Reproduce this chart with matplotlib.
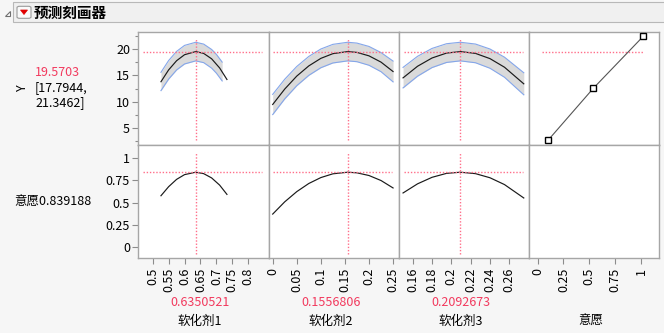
import matplotlib
matplotlib.use("Agg")
import matplotlib.pyplot as plt
from matplotlib.patches import FancyBboxPatch, Polygon, Rectangle

plt.rcParams["font.family"] = ["Noto Sans CJK SC", "DejaVu Sans"]
plt.rcParams["font.size"] = 9

W, H = 664, 333

# ---- data read from the profiler ----
factor_names = ["软化剂1", "软化剂2", "软化剂3", "意愿"]
factor_values = ["0.6350521", "0.1556806", "0.2092673", ""]
current_x = [0.6350521, 0.1556806, 0.2092673]
pred_y = 19.5703
pred_ci = (17.7944, 21.3462)
desir = 0.839188

# column 1 (软化剂1)
x1 = [0.526, 0.55, 0.575, 0.6, 0.635, 0.66, 0.685, 0.71, 0.733]
y1 = [13.80, 16.06, 17.82, 18.97, 19.57, 19.22, 18.18, 16.44, 14.23]
d1 = [0.576, 0.677, 0.759, 0.812, 0.839, 0.823, 0.775, 0.695, 0.591]
bx1 = [0.526, 0.55, 0.575, 0.6, 0.635, 0.66, 0.685, 0.70, 0.718]
hi1 = [15.60, 17.85, 19.60, 20.75, 21.35, 21.00, 19.97, 19.02, 17.56]
lo1 = [12.10, 14.30, 16.05, 17.20, 17.79, 17.45, 16.40, 15.43, 13.95]

# column 2 (软化剂2)
x2 = [0.0, 0.025, 0.05, 0.075, 0.1, 0.125, 0.1557, 0.175, 0.2, 0.225, 0.25]
y2 = [9.45, 12.40, 14.88, 16.83, 18.27, 19.17, 19.57, 19.41, 18.75, 17.55, 15.75]
d2 = [0.371, 0.508, 0.622, 0.713, 0.779, 0.821, 0.839, 0.832, 0.802, 0.746, 0.663]
hi2 = [11.38, 14.28, 16.72, 18.64, 20.06, 20.95, 21.35, 21.19, 20.55, 19.38, 17.75]
lo2 = [7.52, 10.52, 13.04, 15.02, 16.48, 17.39, 17.79, 17.63, 16.95, 15.72, 13.77]

# column 3 (软化剂3)
x3 = [0.15, 0.165, 0.18, 0.195, 0.2093, 0.225, 0.24, 0.255, 0.275]
y3 = [14.54, 16.76, 18.34, 19.28, 19.57, 19.22, 18.22, 16.58, 13.40]
d3 = [0.607, 0.709, 0.782, 0.826, 0.839, 0.823, 0.777, 0.701, 0.551]
hi3 = [16.54, 18.66, 20.17, 21.07, 21.35, 21.01, 20.06, 18.50, 15.52]
lo3 = [12.62, 14.86, 16.51, 17.49, 17.79, 17.43, 16.38, 14.66, 11.30]

# desirability function (column 4)
dfun_d = [0.104, 0.538, 1.02]
dfun_y = [2.66, 12.54, 22.49]

# axis ranges and ticks
xlims = [(0.453, 0.864), (-0.0083, 0.2617), (0.1455, 0.2801), (-0.085, 1.167)]
xticks = [
    [0.5, 0.55, 0.6, 0.65, 0.7, 0.75, 0.8],
    [0.0, 0.05, 0.1, 0.15, 0.2, 0.25],
    [0.16, 0.18, 0.2, 0.22, 0.24, 0.26],
    [0.0, 0.25, 0.5, 0.75, 1.0],
]
xticklabels = [
    ["0.5", "0.55", "0.6", "0.65", "0.7", "0.75", "0.8"],
    ["0", "0.05", "0.1", "0.15", "0.2", "0.25"],
    ["0.16", "0.18", "0.2", "0.22", "0.24", "0.26"],
    ["0", "0.25", "0.5", "0.75", "1"],
]
ylims = [(1.70, 23.37), (-0.123, 1.143)]
yticks = [[5, 10, 15, 20], [0, 0.25, 0.5, 0.75, 1]]
yticklabels = [["5", "10", "15", "20"], ["0", "0.25", "0.5", "0.75", "1"]]
yminor = [2.5, 7.5, 12.5, 17.5, 22.5]

# extents of the red crosshair lines
hspan = [(0.471, 0.843), (0.001, 0.248), (0.151, 0.274), (0.04, 1.027)]
vspan_y = (2.66, 22.16)
vspan_d = (-0.075, 1.068)

RED = "#f23a5e"
REDLINE = "#ff6f8a"
EDGE = "#a6a6a6"
BAND = "#dadada"
BLUE = "#84a6ea"
DOT = (0, (1, 1.3))

col_px = [137.7, 268.7, 398.7, 528.7, 658.5]
row_px = [31.7, 145.0, 258.3]


def fx(px):
    return px / W


def fy(py):
    return 1 - py / H


fig = plt.figure(figsize=(W / 100, H / 100), dpi=100, facecolor="#f6f6f6")

curves = [(x1, y1, d1, bx1, hi1, lo1), (x2, y2, d2, x2, hi2, lo2), (x3, y3, d3, x3, hi3, lo3)]

for r in range(2):
    for c in range(4):
        left, right = col_px[c], col_px[c + 1]
        top, bottom = row_px[r], row_px[r + 1]
        ax = fig.add_axes([fx(left), fy(bottom), (right - left) / W, (bottom - top) / H])
        ax.set_facecolor("white")
        ax.set_xlim(*xlims[c])
        ax.set_ylim(*ylims[r])
        for sp in ax.spines.values():
            sp.set_color(EDGE)
            sp.set_linewidth(1.0)
        ax.set_xticks(xticks[c])
        ax.set_xticklabels(xticklabels[c], rotation=90)
        ax.set_yticks(yticks[r])
        ax.set_yticklabels(yticklabels[r])
        if r == 0:
            ax.set_yticks(yminor, minor=True)
        ax.tick_params(axis="both", which="major", length=4, width=0.8, color="#8c8c8c", labelsize=9)
        ax.tick_params(axis="y", which="minor", length=2.2, width=0.8, color="#8c8c8c")
        ax.tick_params(axis="y", which="both", left=(c == 0), labelleft=(c == 0), pad=1.5)
        ax.tick_params(axis="x", which="both", bottom=(r == 1), labelbottom=(r == 1), pad=3)

        hx0, hx1 = hspan[c]
        if c < 3:
            xs, ys, ds, bx, hi, lo = curves[c]
            if r == 0:
                ax.fill_between(bx, lo, hi, color=BAND, lw=0, zorder=1)
                ax.plot(bx, hi, color=BLUE, lw=0.8, zorder=2)
                ax.plot(bx, lo, color=BLUE, lw=0.8, zorder=2)
                ax.plot(xs, ys, color="#1a1a1a", lw=0.85, zorder=3)
                ax.plot([hx0, hx1], [pred_y, pred_y], color=REDLINE, lw=1.0, ls=DOT, zorder=4)
                ax.plot([current_x[c]] * 2, vspan_y, color=REDLINE, lw=1.0, ls=DOT, zorder=4)
            else:
                ax.plot(xs, ds, color="#1a1a1a", lw=0.85, zorder=3)
                ax.plot([hx0, hx1], [desir, desir], color=REDLINE, lw=1.0, ls=DOT, zorder=4)
                ax.plot([current_x[c]] * 2, vspan_d, color=REDLINE, lw=1.0, ls=DOT, zorder=4)
        elif r == 0:
            ax.plot([hx0, hx1], [pred_y, pred_y], color=REDLINE, lw=1.0, ls=DOT, zorder=2)
            ax.plot(dfun_d, dfun_y, color="#555555", lw=0.8, zorder=3,
                    marker="s", ms=4.5, mfc="white", mec="black", mew=1.0)

# left-hand labels
fig.text(fx(22), fy(88), "Y", rotation=90, ha="center", va="center", fontsize=9)
fig.text(fx(35), fy(72), f"{pred_y:.4f}", color=RED, ha="left", va="center", fontsize=9)
fig.text(fx(35), fy(88), f"[{pred_ci[0]:.4f},", ha="left", va="center", fontsize=9)
fig.text(fx(35), fy(103), f"{pred_ci[1]:.4f}]", ha="left", va="center", fontsize=9)
fig.text(fx(14), fy(202), f"意愿{desir:.6f}", ha="left", va="center", fontsize=9)

# factor values and names under each column
for c in range(4):
    cx = (col_px[c] + col_px[c + 1]) / 2 - 3
    if factor_values[c]:
        fig.text(fx(cx), fy(302), factor_values[c], color=RED, ha="center", va="center", fontsize=9)
    fig.text(fx(cx), fy(321), factor_names[c], ha="center", va="center", fontsize=9)

# title bar
fig.patches.append(Rectangle((fx(13), fy(21.5)), fx(664), 19 / H, transform=fig.transFigure,
                             facecolor="#f0f0f0", edgecolor="#b8b8b8", lw=0.8))
fig.patches.append(Polygon([(fx(10), fy(11)), (fx(10), fy(16)), (fx(5), fy(16))], closed=True,
                           transform=fig.transFigure, facecolor="white", edgecolor="#707070", lw=0.8))
fig.patches.append(FancyBboxPatch((fx(17), fy(18.3)), 14 / W, 12 / H, boxstyle="round,pad=0,rounding_size=0.004",
                                  transform=fig.transFigure, facecolor="#fafafa", edgecolor="#9a9a9a", lw=0.8))
fig.patches.append(Polygon([(fx(20.5), fy(10)), (fx(27.5), fy(10)), (fx(24), fy(14.5))], closed=True,
                           transform=fig.transFigure, facecolor="#e00000", edgecolor="#e00000", lw=0.5))
fig.text(fx(34), fy(12.5), "预测刻画器", fontsize=10.5, fontweight="bold", ha="left", va="center")

fig.savefig("out.png", dpi=100, facecolor=fig.get_facecolor())
